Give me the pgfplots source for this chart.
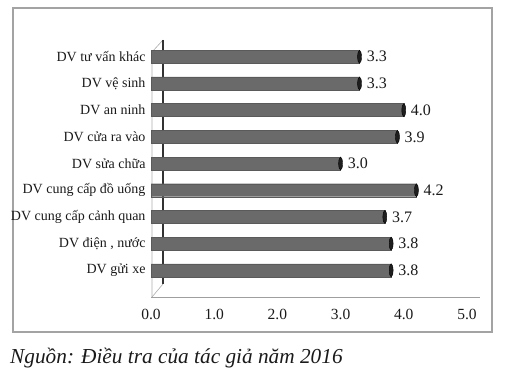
\documentclass[border=0pt]{standalone}
\usepackage{pgfplots}
\pgfplotsset{compat=1.18}
\usepackage{pgfplotstable}
\usepackage{fontspec}
\setmainfont{Liberation Serif}
\definecolor{barc}{HTML}{6A6A6A}
\definecolor{capc}{HTML}{1E1E1E}
\definecolor{framec}{HTML}{A3A3A3}
\definecolor{txt}{HTML}{1A1A1A}
\pgfplotstableread{
idx val
0 3.8
1 3.8
2 3.7
3 4.2
4 3.0
5 3.9
6 4.0
7 3.3
8 3.3
}\data
\begin{document}
\begin{tikzpicture}[x=1pt,y=1pt]
\useasboundingbox (0,0) rectangle (510,374);
\draw[framec, line width=1.3pt] (13,366) rectangle (492,42);
\draw[gray!65, line width=0.6pt] (152,77) -- (152,322) -- (163,334);
\draw[black!80, line width=1.3pt] (163,334) -- (163,90);
\draw[gray!65, line width=0.6pt] (152,77) -- (163,90);
\begin{axis}[
  at={(151pt,77pt)}, anchor=south west,
  scale only axis, width=329pt, height=257pt,
  xmin=0, xmax=5.206, ymin=-1, ymax=8.63,
  clip=false,
  axis x line*=bottom, axis y line*=left,
  x axis line style={-, draw=gray!75, line width=0.8pt},
  y axis line style={draw=none},
  major tick length=0pt,
  xtick={0,1,2,3,4,5},
  xticklabels={\textrm{0.0},\textrm{1.0},\textrm{2.0},\textrm{3.0},\textrm{4.0},\textrm{5.0}},
  ytick={0,1,2,3,4,5,6,7,8},
  yticklabels={DV gửi xe,{DV điện , nước},DV cung cấp cảnh quan,DV cung cấp đồ uống,DV sửa chữa,DV cửa ra vào,DV an ninh,DV vệ sinh,DV tư vấn khác},
  xticklabel style={font=\fontsize{15.5}{17}\selectfont, text=txt, yshift=-9pt},
  yticklabel style={font=\fontsize{14}{16}\selectfont, text=txt, xshift=-2pt},
  /pgf/number format/assume math mode=true,
]
\addplot[xbar, bar width=13pt, fill=barc, draw=barc!85!black,
  nodes near coords={\pgfmathprintnumber[fixed,fixed zerofill,precision=1,assume math mode=true]{\pgfplotspointmeta}},
  nodes near coords style={anchor=west, inner sep=0pt, xshift=7pt, text=txt, font=\fontsize{16}{18}\selectfont}]
  table[x=val, y=idx]{\data};
\addplot[only marks, mark=*, mark size=6.5pt, mark options={xscale=0.3, fill=capc, draw=none}]
  table[x=val, y=idx]{\data};
\end{axis}
\node[anchor=base west, inner sep=0pt, text=txt, font=\fontsize{21.3}{24}\selectfont\itshape] at (10,11) {Nguồn: Điều tra của tác giả năm 2016};
\end{tikzpicture}
\end{document}
